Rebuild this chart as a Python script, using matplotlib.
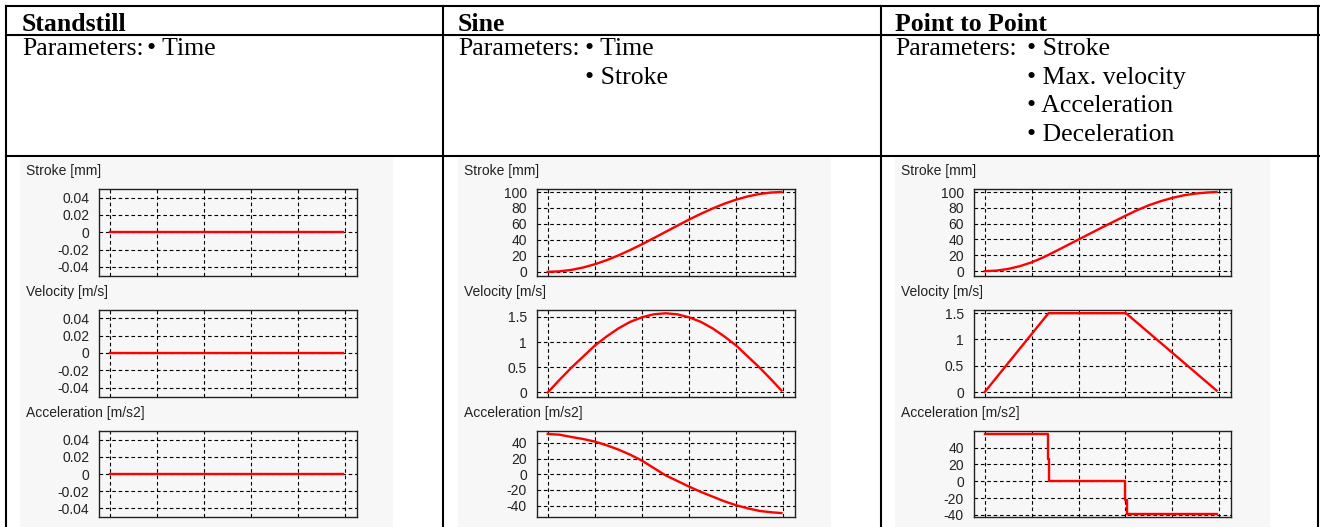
import matplotlib
matplotlib.use('Agg')
import matplotlib.pyplot as plt
from matplotlib.lines import Line2D
from matplotlib.patches import Rectangle

# ---- data ----
columns = ['Standstill', 'Sine', 'Point to Point']
parameters = [
    ['Time'],
    ['Time', 'Stroke'],
    ['Stroke', 'Max. velocity', 'Acceleration', 'Deceleration'],
]
row_titles = ['Stroke [mm]', 'Velocity [m/s]', 'Acceleration [m/s2]']

# standstill
still_t = [0, 4.95]
still_stroke = [0, 0]
still_vel = [0, 0]
still_acc = [0, 0]

# sine profile
sine_t = [0, 0.25, 0.5, 0.75, 1, 1.25, 1.5, 1.75, 2, 2.25, 2.5,
          2.75, 3, 3.25, 3.5, 3.75, 4, 4.25, 4.5, 4.75, 4.96]
sine_stroke = [0, 0.6, 2.4, 5.4, 9.5, 14.6, 20.6, 27.3, 34.5, 42.2, 50,
               57.8, 65.5, 72.7, 79.4, 85.4, 90.5, 94.6, 97.6, 99.4, 100]
sine_vel = [0, 0.25, 0.49, 0.71, 0.93, 1.11, 1.27, 1.40, 1.49, 1.55, 1.57,
            1.55, 1.49, 1.40, 1.27, 1.11, 0.93, 0.71, 0.49, 0.25, 0.04]
sine_acc = [51.4, 50.5, 47.6, 45, 41.7, 37, 31.5, 25, 17.4, 8, -1.3,
            -8.5, -15.7, -22.5, -28.5, -34.5, -39.5, -43.5, -46.8, -48.5, -49.5]

# point to point profile
ptp_stroke_t = [0, 0.25, 0.5, 0.75, 1, 1.25, 1.36, 1.5, 2, 2.5, 3,
                3.25, 3.5, 3.75, 4, 4.25, 4.5, 4.75, 4.94]
ptp_stroke = [0, 0.7, 2.8, 6.3, 11.1, 17.4, 20.6, 24.8, 40.0, 55.2, 70.0,
              77.1, 83.3, 88.4, 92.6, 95.9, 98.1, 99.4, 100]
ptp_vel_t = [0, 1.36, 3.01, 4.94]
ptp_vel = [0, 1.5, 1.5, 0.03]
ptp_acc_t = [0, 1.35, 1.35, 1.38, 1.38, 3.0, 3.0, 3.04, 3.04, 4.94]
ptp_acc = [56, 56, 26.8, 26.8, 0, 0, -22, -22, -38.8, -38.8]

still_ticks = [-0.04, -0.02, 0, 0.02, 0.04]
stroke_ticks = [0, 20, 40, 60, 80, 100]
vel_ticks = [0, 0.5, 1, 1.5]
acc_ticks = [-40, -20, 0, 20, 40]

W, H = 1320, 527
fig = plt.figure(figsize=(W / 100, H / 100), dpi=100)
plt.rcParams['lines.scale_dashes'] = False


def fx(x):
    return x / W


def fy(y):
    return 1 - y / H


def hline(y, x0, x1):
    fig.add_artist(Line2D([fx(x0), fx(x1)], [fy(y), fy(y)], color='black', lw=1.5))


def vline(x, y0, y1):
    fig.add_artist(Line2D([fx(x), fx(x)], [fy(y0), fy(y1)], color='black', lw=1.5))


# light grey chart-screenshot panels
panel_x = [(20, 393), (458, 831), (895, 1270)]
for x0, x1 in panel_x:
    fig.add_artist(Rectangle((fx(x0), 0), fx(x1 - x0), fy(158), transform=fig.transFigure,
                             facecolor='#f7f7f7', edgecolor='none', zorder=0))

# table lines
hline(6, 6, 1319)
hline(34.5, 6, 1319)
hline(156, 6, 1319)
for x in [6.5, 443, 881, 1318]:
    vline(x, 5.5, 527)

serif = 'Liberation Serif'
text_x = [22, 458, 895]
bullet_x = [147, 585, 1027]
for i, name in enumerate(columns):
    fig.text(fx(text_x[i]), fy(31), name, family=serif, weight='bold', fontsize=18.5, va='baseline')
    fig.text(fx(text_x[i]), fy(55), 'Parameters:', family=serif, fontsize=18.5, va='baseline')
    for j, p in enumerate(parameters[i]):
        fig.text(fx(bullet_x[i]), fy(55 + j * 28.6), '\u2022 ' + p, family=serif,
                 fontsize=18.5, va='baseline')

# chart axes
axes_x = [(99, 357), (536.7, 795.3), (973.7, 1231.3)]
rows_y = [(189, 275.5), (309.5, 396.5), (431, 517)]

series = [
    [(still_t, still_stroke, still_ticks, (-0.05, 0.05)),
     (still_t, still_vel, still_ticks, (-0.05, 0.05)),
     (still_t, still_acc, still_ticks, (-0.05, 0.05))],
    [(sine_t, sine_stroke, stroke_ticks, (-4.6, 103.8)),
     (sine_t, sine_vel, vel_ticks, (-0.08, 1.645)),
     (sine_t, sine_acc, acc_ticks, (-54.5, 55.2))],
    [(ptp_stroke_t, ptp_stroke, stroke_ticks, (-5.5, 103.8)),
     (ptp_vel_t, ptp_vel, vel_ticks, (-0.084, 1.57)),
     (ptp_acc_t, ptp_acc, acc_ticks, (-42.4, 59.7))],
]

for c, (ax0, ax1) in enumerate(axes_x):
    for r, (ay0, ay1) in enumerate(rows_y):
        t, vals, ticks, ylim = series[c][r]
        ax = fig.add_axes([fx(ax0), fy(ay1), fx(ax1 - ax0), (ay1 - ay0) / H])
        ax.set_facecolor('#f7f7f7')
        ax.plot(t, vals, color='#ff0000', lw=1.7, zorder=3)
        ax.set_xlim(-0.234, 5.255)
        ax.set_ylim(*ylim)
        ax.set_xticks([0, 1, 2, 3, 4, 5])
        ax.set_yticks(ticks)
        ax.set_yticklabels(['%g' % v for v in ticks])
        ax.tick_params(length=0, labelbottom=False, pad=7, labelsize=10, labelcolor='#222222')
        for lab in ax.get_yticklabels():
            lab.set_family('Liberation Sans')
        ax.grid(True, color='black', linestyle=(0, (2.6, 2.0)), linewidth=0.8)
        for sp in ax.spines.values():
            sp.set_linewidth(1.0)
            sp.set_color('#222222')
        fig.text(fx(ax0 - 73), fy(ay0 - 17.5), row_titles[r], family='Liberation Sans',
                 fontsize=10, va='center', color='#222222')

fig.savefig('out.png', dpi=100)
